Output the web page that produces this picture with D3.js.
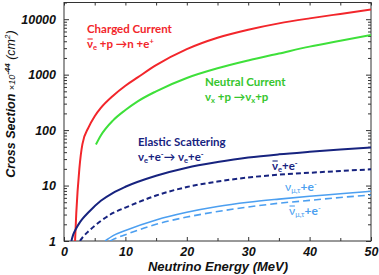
<!DOCTYPE html>
<html lang="en">
<head>
<meta charset="utf-8">
<title>Neutrino cross sections</title>
<script src="https://d3js.org/d3.v7.min.js"></script>
<style>
  body { margin: 0; background: #fff; }
  .axis text { font-family: "Liberation Sans", Arial, sans-serif; font-size: 12.5px; font-weight: bold; font-style: italic; fill: #111; }
  .axis path, .axis line { stroke: #333; }
  .lbl { font-family: Lato, "Open Sans", sans-serif; font-weight: bold; font-size: 11.5px; }
  .lbl2 { font-family: Lato, "Open Sans", sans-serif; font-size: 12px; }
  .title { font-family: "Liberation Sans", Arial, sans-serif; font-weight: bold; font-style: italic; fill: #111; }
</style>
</head>
<body>
<script>
// values (x10^-44 cm^2 vs MeV)
const ccE   = [1.8, 2.0, 2.5, 3, 4, 5, 6, 8, 10, 12, 15, 20, 25, 30, 35, 40, 45, 50];
const ccVal = [1, 3.2, 20, 56, 112, 178, 251, 417, 631, 891, 1480, 2880, 4620, 6460, 8410, 10350, 12450, 14900];

const ncE   = [5.2, 6, 8, 10, 12, 15, 20, 25, 30, 35, 40, 45, 50];
const ncVal = [55, 80, 150, 230, 330, 500, 870, 1300, 1800, 2400, 3200, 4100, 5200];

const esE   = [1.2, 1.5, 2, 2.5, 3, 4, 6, 8, 10, 15, 20, 25, 30, 35, 40, 45, 50];
const esVal = [1, 1.3, 1.7, 2.1, 2.5, 3.3, 5.3, 7.4, 9.5, 15, 21, 26.5, 32, 36.5, 40.5, 44.5, 48.5];

const esBarE   = [2.6, 3, 4, 6, 8, 10, 15, 20, 25, 30, 35, 40, 45, 50];
const esBarVal = [1, 1.15, 1.5, 2.3, 3.2, 4, 6.6, 9.4, 11.8, 14, 15.7, 17, 18.3, 19.6];

const muE   = [6.7, 8, 10, 15, 20, 25, 30, 35, 40, 45, 50];
const muVal = [1, 1.25, 1.55, 2.4, 3.3, 4.2, 5, 5.7, 6.4, 7.1, 7.9];

const muBarE   = [7.5, 8, 10, 15, 20, 25, 30, 35, 40, 45, 50];
const muBarVal = [1, 1.07, 1.3, 2, 2.7, 3.4, 4.1, 4.8, 5.4, 6.1, 6.75];

const xTicks = [0, 10, 20, 30, 40, 50];
const yTicks = [1, 10, 100, 1000, 10000];

const w = 379, h = 275;
const mLeft = 64, mRight = 371, mTop = 2.5, mBottom = 241;

const svg = d3.select("body").append("svg").attr("width", w).attr("height", h);

const x = d3.scaleLinear().domain([0, 50]).range([mLeft, mRight]);
const y = d3.scaleLog().domain([1, 20000]).range([mBottom, mTop]);

svg.append("clipPath").attr("id", "clip")
  .append("rect").attr("x", mLeft).attr("y", mTop).attr("width", mRight - mLeft).attr("height", mBottom - mTop);

// minor log ticks
const minors = [];
[1, 10, 100, 1000, 10000].forEach(d => {
  for (let k = 2; k <= 9; k++) if (d * k <= 20000) minors.push(d * k);
});
const xMinor = d3.range(5, 50, 10);

// left axis
svg.append("g").attr("class", "axis").attr("transform", `translate(${mLeft},0)`)
  .call(d3.axisLeft(y).tickValues(yTicks).tickFormat(d3.format("d")).tickSizeInner(-5).tickSizeOuter(0).tickPadding(8));
svg.append("g").attr("class", "axis").attr("transform", `translate(${mLeft},0)`)
  .call(d3.axisLeft(y).tickValues(minors).tickFormat("").tickSizeInner(-3).tickSizeOuter(0));
// right axis
svg.append("g").attr("class", "axis").attr("transform", `translate(${mRight},0)`)
  .call(d3.axisRight(y).tickValues(yTicks).tickFormat("").tickSizeInner(-5).tickSizeOuter(0));
svg.append("g").attr("class", "axis").attr("transform", `translate(${mRight},0)`)
  .call(d3.axisRight(y).tickValues(minors).tickFormat("").tickSizeInner(-3).tickSizeOuter(0));
// bottom axis
svg.append("g").attr("class", "axis").attr("transform", `translate(0,${mBottom})`)
  .call(d3.axisBottom(x).tickValues(xTicks).tickSizeInner(-4).tickSizeOuter(0).tickPadding(6));
svg.append("g").attr("class", "axis").attr("transform", `translate(0,${mBottom})`)
  .call(d3.axisBottom(x).tickValues(xMinor).tickFormat("").tickSizeInner(-3).tickSizeOuter(0));
// top axis
svg.append("g").attr("class", "axis").attr("transform", `translate(0,${mTop})`)
  .call(d3.axisTop(x).tickValues(xTicks.concat(xMinor)).tickFormat("").tickSizeInner(-3).tickSizeOuter(0));

svg.selectAll(".axis .domain").remove();
svg.append("rect").attr("x", mLeft).attr("y", mTop).attr("width", mRight - mLeft).attr("height", mBottom - mTop)
  .attr("fill", "none").attr("stroke", "#333").attr("stroke-width", 1);

// curves
const line = d3.line().x(d => x(d[0])).y(d => y(d[1])).curve(d3.curveMonotoneX);
const curves = [
  { e: ccE, v: ccVal, color: "#f2262b", dash: null, width: 2 },
  { e: ncE, v: ncVal, color: "#3ee03a", dash: null, width: 2 },
  { e: esE, v: esVal, color: "#17237f", dash: null, width: 2 },
  { e: esBarE, v: esBarVal, color: "#17237f", dash: "5,3", width: 2 },
  { e: muE, v: muVal, color: "#4c9ff0", dash: null, width: 1.6 },
  { e: muBarE, v: muBarVal, color: "#4c9ff0", dash: "7,4", width: 1.6 }
];
svg.append("g").attr("clip-path", "url(#clip)").selectAll("path")
  .data(curves).enter().append("path")
  .attr("d", c => line(c.e.map((e, i) => [e, c.v[i]])))
  .attr("fill", "none").attr("stroke", c => c.color)
  .attr("stroke-width", c => c.width)
  .attr("stroke-dasharray", c => c.dash);

// labels
function addText(xp, yp, cls, color, parts, bar) {
  const t = svg.append("text").attr("x", xp).attr("y", yp).attr("class", cls).attr("fill", color);
  parts.forEach(p => {
    const s = t.append("tspan").text(p.t);
    if (p.sub) s.attr("font-size", "7.5px").attr("baseline-shift", "-2");
    if (p.sup) s.attr("font-size", "7.5px").attr("baseline-shift", "4");
    if (p.b) s.attr("font-weight", "bold");
  });
  if (bar) {
    // overline above the leading nu
    const ext = t.node().getExtentOfChar(0);
    svg.append("line")
      .attr("x1", ext.x + 0.5).attr("x2", ext.x + ext.width - 0.3)
      .attr("y1", yp - 8.5).attr("y2", yp - 8.5)
      .attr("stroke", color).attr("stroke-width", 1.1);
  }
  return t;
}
addText(87, 33, "lbl", "#f2262b", [{ t: "Charged Current" }]);
addText(87, 47.5, "lbl", "#f2262b", [{ t: "ν" }, { t: "e", sub: true }, { t: " +p →n +e" }, { t: "+", sup: true }], true);
addText(205, 86, "lbl", "#36c62e", [{ t: "Neutral Current" }]);
addText(205, 101, "lbl", "#36c62e", [{ t: "ν" }, { t: "x", sub: true }, { t: " +p →ν" }, { t: "x", sub: true }, { t: "+p" }]);
addText(138, 146, "lbl", "#17237f", [{ t: "Elastic Scattering" }]);
addText(138, 161, "lbl", "#17237f", [{ t: "ν" }, { t: "e", sub: true }, { t: "+e" }, { t: "-", sup: true }, { t: "→ ν" }, { t: "e", sub: true }, { t: "+e" }, { t: "-", sup: true }]);
addText(272, 169.5, "lbl", "#17237f", [{ t: "ν" }, { t: "e", sub: true }, { t: "+e" }, { t: "-", sup: true }], true);
addText(285, 191, "lbl2", "#4c9ff0", [{ t: "ν" }, { t: "μ,τ", sub: true }, { t: "+e", b: true }, { t: "-", sup: true }]);
addText(289, 214.5, "lbl2", "#4c9ff0", [{ t: "ν" }, { t: "μ,τ", sub: true }, { t: "+e", b: true }, { t: "-", sup: true }], true);

// axis titles
svg.append("text").attr("class", "title").attr("x", 218).attr("y", 271)
  .attr("text-anchor", "middle").attr("font-size", "13px").text("Neutrino Energy  (MeV)");

const yt = svg.append("text").attr("class", "title").attr("text-anchor", "middle")
  .attr("transform", "translate(15,104) rotate(-90)").attr("font-size", "12.5px");
yt.append("tspan").text("Cross Section  ");
yt.append("tspan").attr("font-size", "9px").attr("font-weight", "normal").text("×10");
yt.append("tspan").attr("font-size", "8px").attr("baseline-shift", "5").text("-44");
yt.append("tspan").attr("font-weight", "normal").text("  (cm");
yt.append("tspan").attr("font-size", "8px").attr("font-weight", "normal").attr("baseline-shift", "5").text("2");
yt.append("tspan").attr("font-weight", "normal").text(")");
</script>
</body>
</html>
